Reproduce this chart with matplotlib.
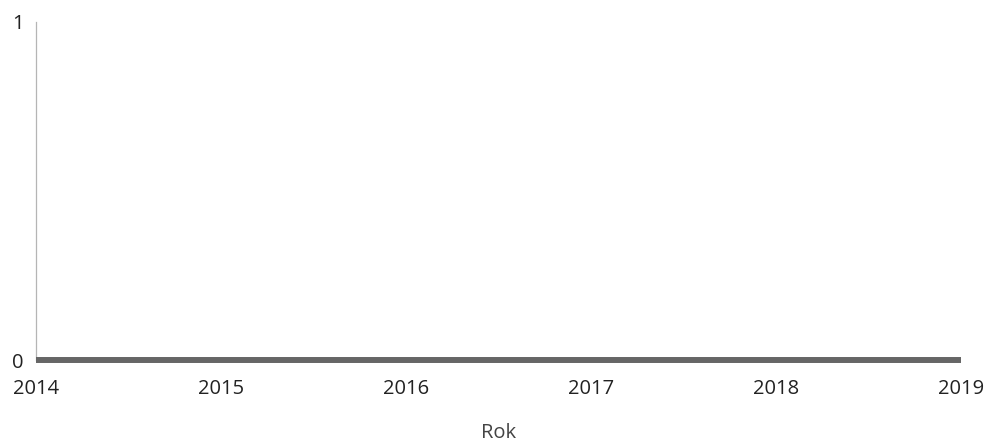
import matplotlib
matplotlib.use("Agg")
from matplotlib import pyplot as plt

# data
years = [2014, 2015, 2016, 2017, 2018, 2019]
values = [0, 0, 0, 0, 0, 0]
yTicks = [0, 1]

plt.rcParams['font.family'] = ['Open Sans', 'DejaVu Sans']

fig = plt.figure(figsize=(9.88, 4.45), dpi=100)
ax = fig.add_axes([0.0364, 0.191, 0.9363, 0.7596])

ax.plot(years, values, color="#666666", linewidth=4.3, solid_capstyle="butt", zorder=3, clip_on=False)

ax.set_xlim(2014, 2019)
ax.set_ylim(0, 1)
ax.set_xticks(years)
ax.set_yticks(yTicks)
ax.tick_params(axis="both", length=0, labelsize=14.5, colors="#222222")
ax.tick_params(axis="x", pad=14)
ax.tick_params(axis="y", pad=9)

for side in ["top", "right", "bottom"]:
	ax.spines[side].set_visible(False)
ax.spines["left"].set_color("#b5b5b5")
ax.spines["left"].set_linewidth(0.9)

ax.set_xlabel("Rok", fontsize=14.5, color="#444444", labelpad=17)

fig.savefig("out.png", dpi=100)
